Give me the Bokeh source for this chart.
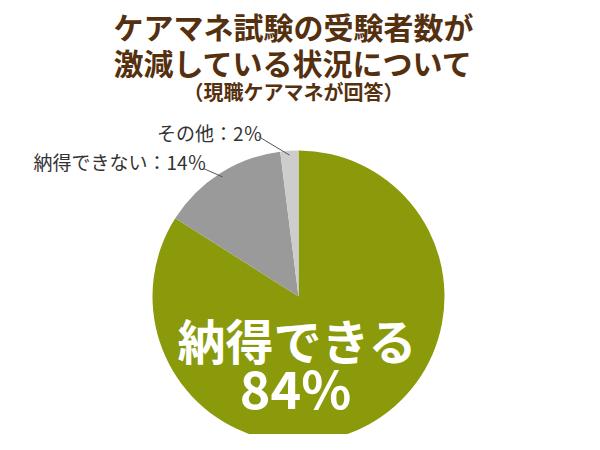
import math
from bokeh.plotting import figure
from bokeh.models import Range1d, ColumnDataSource
from bokeh.core.properties import value
from bokeh.embed import file_html
from bokeh.resources import INLINE

# ---- data ----
categories = ["納得できる", "納得できない", "その他"]
values = [84, 14, 2]
side_labels = ["", "納得できない：14％", "その他：2％"]
big_label = ["納得できる", "84%"]
title_lines = ["ケアマネ試験の受験者数が", "激減している状況について", "（現職ケアマネが回答）"]

# ---- styles / layout ----
colors = ["#8a9a0b", "#9a9a9a", "#cdcdcd"]
title_color = "#55300f"
font = "Noto Sans CJK JP"
W, H = 584, 434
CX, CY, R = 298, 296, 146   # page-pixel layout of the pie


def Y(y):  # page pixel y (top-down) -> data y (bottom-up)
    return 450 - y


p = figure(width=W, height=H, output_backend="svg", toolbar_location=None,
           x_range=Range1d(0, W), y_range=Range1d(450 - H, 450), min_border=0)
p.axis.visible = False
p.grid.visible = False
p.outline_line_color = None
p.background_fill_color = "white"
p.border_fill_color = "white"

total = sum(values)
starts, ends, mids = [], [], []
cum = 0
for v in values:
    a0 = math.pi / 2 - (cum + v) / total * 2 * math.pi
    a1 = math.pi / 2 - cum / total * 2 * math.pi
    starts.append(a0)
    ends.append(a1)
    mids.append((a0 + a1) / 2)
    cum += v

src = ColumnDataSource(dict(start=starts, end=ends, color=colors, cat=categories))
p.wedge(x=CX, y=Y(CY), radius=R, start_angle="start", end_angle="end",
        direction="anticlock", fill_color="color", line_color=None, source=src)

# title
title_y = [25, 61, 91]
title_size = ["30px", "30px", "20px"]
for t, ty, ts in zip(title_lines, title_y, title_size):
    p.text(x=[293], y=[Y(ty)], text=[t], text_font=value(font), text_font_size=ts,
           text_font_style="bold", text_color=title_color, text_align="center",
           text_baseline="middle")

# big label inside
p.text(x=[297], y=[Y(338)], text=[big_label[0]], text_font=value(font),
       text_font_size="48px", text_font_style="bold", text_color="white",
       text_align="center", text_baseline="middle")
p.text(x=[295], y=[Y(386)], text=[big_label[1]], text_font=value(font),
       text_font_size="52px", text_font_style="bold", text_color="white",
       text_align="center", text_baseline="middle")

# side labels with leaders
label_pos = {1: (206, 161), 2: (262, 132)}
leader_start = {1: (203, 168), 2: (258, 136)}
for i in (1, 2):
    lx, ly = label_pos[i]
    p.text(x=[lx], y=[Y(ly)], text=[side_labels[i]], text_font=value(font),
           text_font_size="19px", text_color="#333333", text_align="right",
           text_baseline="middle")
    sx, sy = leader_start[i]
    ex = CX + R * 0.97 * math.cos(mids[i])
    ey = Y(CY) + R * 0.97 * math.sin(mids[i])
    p.line(x=[sx, ex], y=[Y(sy), ey], line_color="#555555", line_width=1)

open("out.html", "w").write(file_html(p, INLINE))
